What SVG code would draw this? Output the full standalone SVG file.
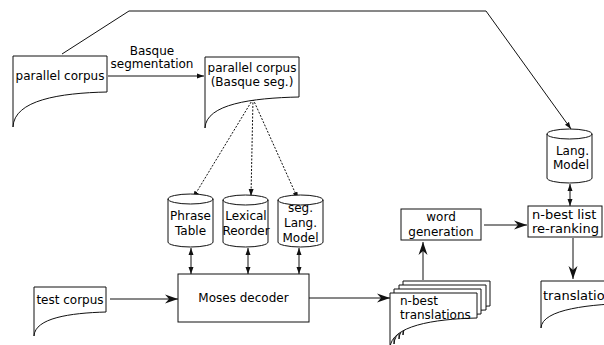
<svg xmlns="http://www.w3.org/2000/svg" width="604" height="345" viewBox="0 0 604 345">
<defs>
<style>
.s{fill:#fff;stroke:#111;stroke-width:1}
.l{fill:none;stroke:#111;stroke-width:1}
.d{fill:none;stroke:#111;stroke-width:1;stroke-dasharray:2,1.5}
text{font-family:"DejaVu Sans","Liberation Sans",sans-serif;font-size:12px;fill:#000}
.c{text-anchor:middle}
</style>
<marker id="tri" markerUnits="userSpaceOnUse" markerWidth="8" markerHeight="6" refX="7" refY="3" orient="auto-start-reverse"><path d="M0,0.5 L7,3 L0,5.5 z" fill="#111"/></marker>
<marker id="st" markerUnits="userSpaceOnUse" markerWidth="14" markerHeight="10" refX="13" refY="5" orient="auto"><path d="M0,0.5 L13,5 L0,9.5 L4,5 z" fill="#111"/></marker>
</defs>

<g id="connectors">
<polyline class="l" points="62,54 129,11 486,11 571,129" marker-end="url(#tri)"/>
<line class="l" x1="108" y1="76" x2="204" y2="76" marker-end="url(#tri)"/>
<line class="d" x1="253" y1="99" x2="193" y2="198" marker-end="url(#tri)"/>
<line class="d" x1="253" y1="99" x2="251" y2="196" marker-end="url(#tri)"/>
<line class="d" x1="253" y1="99" x2="298" y2="199" marker-end="url(#tri)"/>
<line class="l" x1="191" y1="248" x2="191" y2="274" marker-start="url(#tri)" marker-end="url(#tri)"/>
<line class="l" x1="248" y1="248" x2="248" y2="274" marker-start="url(#tri)" marker-end="url(#tri)"/>
<line class="l" x1="299" y1="248" x2="299" y2="274" marker-start="url(#tri)" marker-end="url(#tri)"/>
<line class="l" x1="110" y1="299" x2="178" y2="299" marker-end="url(#st)"/>
<line class="l" x1="309" y1="298" x2="390" y2="298" marker-end="url(#st)"/>
<line class="l" x1="423" y1="280" x2="423" y2="242" marker-end="url(#st)"/>
<line class="l" x1="484" y1="225" x2="527" y2="225" marker-end="url(#st)"/>
<line class="l" x1="570" y1="184" x2="570" y2="206" marker-start="url(#tri)" marker-end="url(#tri)"/>
<line class="l" x1="573" y1="238" x2="573" y2="279" marker-end="url(#st)"/>
</g>

<text class="c" x="152" y="55">Basque</text>
<text class="c" x="152" y="68">segmentation</text>

<g id="parallel-corpus">
<path class="s" d="M13,127 V56 H107 V92 C60,93 14,100 13,127"/>
<text class="c" x="60" y="80">parallel corpus</text>
</g>

<g id="parallel-corpus-seg">
<path class="s" d="M205,128 V57 H299 V97 C252,98 206,104 205,128"/>
<text class="c" x="252" y="72">parallel corpus</text>
<text class="c" x="252" y="86">(Basque seg.)</text>
</g>

<g id="phrase-table">
<path class="s" d="M168,199 A22.5,5 0 0 1 213,199 V242 A22.5,5 0 0 1 168,242 Z"/>
<path class="l" d="M168,199 A22.5,5 0 0 0 213,199"/>
<text class="c" x="190.5" y="220">Phrase</text>
<text class="c" x="190.5" y="235">Table</text>
</g>

<g id="lexical-reorder">
<path class="s" d="M223,200 A22.5,5 0 0 1 268,200 V242 A22.5,5 0 0 1 223,242 Z"/>
<path class="l" d="M223,200 A22.5,5 0 0 0 268,200"/>
<text class="c" x="246" y="220">Lexical</text>
<text class="c" x="246" y="235">Reorder</text>
</g>

<g id="seg-lang-model">
<path class="s" d="M278,200 A22.5,5 0 0 1 323,200 V242 A22.5,5 0 0 1 278,242 Z"/>
<text class="c" x="300.5" y="212">seg.</text>
<path class="l" d="M278,200 A22.5,5 0 0 0 323,200"/>
<text class="c" x="300.5" y="227">Lang.</text>
<text class="c" x="300.5" y="242">Model</text>
</g>

<g id="moses-decoder">
<rect class="s" x="178" y="274" width="131" height="48"/>
<text class="c" x="243.5" y="302">Moses decoder</text>
</g>

<g id="test-corpus">
<path class="s" d="M34,336 V287 H106 V312 C70,313 35,318 34,336"/>
<text class="c" x="70" y="304">test corpus</text>
</g>

<g id="n-best-translations">
<path class="s" d="M403,335 V281 H490 V306 C446,307 404,313 403,335"/>
<path class="s" d="M399,339 V285 H486 V310 C442,311 400,317 399,339"/>
<path class="s" d="M394,344 V289 H481 V314 C437,315 395,322 394,344"/>
<path class="s" d="M390,348 V293 H477 V318 C433,319 391,326 390,348"/>
<text x="400" y="305">n-best</text>
<text x="400" y="319">translations</text>
</g>

<g id="word-generation">
<rect class="s" x="401" y="209" width="80" height="31"/>
<text class="c" x="441" y="221">word</text>
<text class="c" x="441" y="236">generation</text>
</g>

<g id="lang-model">
<path class="s" d="M547,134 A22.5,5 0 0 1 592,134 V178 A22.5,5 0 0 1 547,178 Z"/>
<path class="l" d="M547,134 A22.5,5 0 0 0 592,134"/>
<text x="589" y="155" text-anchor="end">Lang.</text>
<text x="589" y="169" text-anchor="end">Model</text>
</g>

<g id="n-best-reranking">
<rect class="s" x="528" y="206" width="74" height="31"/>
<text x="532" y="219" style="font-size:13px">n-best list</text>
<text x="532" y="233" style="font-size:13px">re-ranking</text>
</g>

<g id="translations">
<path class="s" d="M541,328 V281 H636 V303 C590,304 542,309 541,328"/>
<text x="543" y="300" style="font-size:13px">translations</text>
</g>
</svg>
